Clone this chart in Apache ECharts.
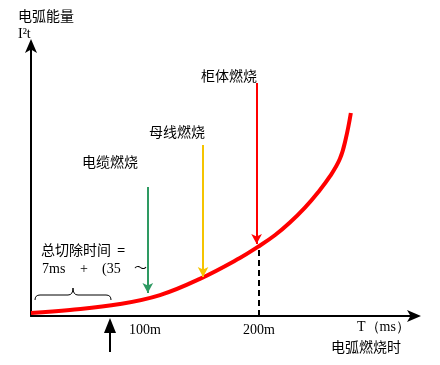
<!DOCTYPE html>
<html><head><meta charset="utf-8">
<script src="https://cdn.jsdelivr.net/npm/echarts@6/dist/echarts.min.js"></script>
<style>html,body{margin:0;padding:0;background:#fff}#c{width:440px;height:365px}</style>
</head><body><div id="c"></div>
<script>
// Curve: arc energy vs time (ms, relative energy)
const curveT = [0, 34.2, 78.1, 113.2, 148.2, 183.3, 199.1, 214.0, 227.2, 240.4, 251.8, 262.3, 271.1, 276.3, 280.7];
const curveE = [1.1, 2.2, 4.4, 7.7, 13.7, 21.4, 25.5, 29.8, 34.5, 40.0, 45.6, 51.5, 58.0, 65.5, 74.9];
// Burning-type arrows: [time, start energy, end energy]
const arrowNames = ['电缆燃烧', '母线燃烧', '柜体燃烧'];
const arrowT = [102.5, 151, 198];
const arrowFrom = [47.6, 63.1, 86];
const arrowTo = [8.5, 14.4, 26.6];
const arrowColors = ['#2e9a62', '#f5c400', '#ff0000'];
// x tick labels
const tickVals = [100, 200];
const tickLabels = ['100m', '200m'];
// dashed marker at 200 ms
const dashT = 200, dashTop = 25.7;

const chart = echarts.init(document.getElementById('c'));
const markData = arrowT.map((t, i) => [
  {coord: [t, arrowFrom[i]], lineStyle: {color: arrowColors[i], width: 2, type: 'solid'}, symbol: 'none'},
  {coord: [t, arrowTo[i]], symbol: 'arrow'}
]);
markData.push([
  {coord: [dashT, 0], lineStyle: {color: '#000', width: 2, type: [6, 4]}, symbol: 'none'},
  {coord: [dashT, dashTop], symbol: 'none'}
]);
const serif = '"Liberation Serif","Times New Roman",serif';
const cjk = '"Noto Sans CJK SC",sans-serif';
const blk = {stroke: '#000', lineWidth: 1, fill: null};
chart.setOption({
  animation: false,
  grid: {left: 31, top: 45, right: 25, bottom: 49},
  xAxis: {
    type: 'value', min: 0, max: 337, interval: 100,
    axisLine: {lineStyle: {color: '#000', width: 2}, symbol: ['none', 'arrow'], symbolSize: [9, 14], symbolOffset: [0, 6]},
    axisTick: {show: false}, splitLine: {show: false},
    axisLabel: {
      color: '#000', fontFamily: serif, fontSize: 14, margin: 7,
      formatter: v => { const k = tickVals.indexOf(v); return k >= 0 ? tickLabels[k] : ''; }
    }
  },
  yAxis: {
    type: 'value', min: 0, max: 100,
    axisLine: {show: true, lineStyle: {color: '#000', width: 2}, symbol: ['none', 'arrow'], symbolSize: [9, 14], symbolOffset: [0, 6]},
    axisTick: {show: false}, splitLine: {show: false}, axisLabel: {show: false}
  },
  series: [{
    type: 'line', data: curveT.map((t, i) => [t, curveE[i]]), smooth: 0.4, symbol: 'none',
    lineStyle: {color: '#ff0000', width: 4},
    markLine: {silent: true, symbol: ['none', 'arrow'], symbolSize: [8, 10], label: {show: false}, data: markData}
  }],
  graphic: [
    {type: 'text', left: 18, top: 9, style: {text: '电弧能量', font: '14px ' + cjk, fill: '#000'}},
    {type: 'text', left: 18, top: 27, style: {text: 'I²t', font: '14px ' + serif, fill: '#000'}},
    {type: 'text', left: 82, top: 155, style: {text: arrowNames[0], font: '14px ' + cjk, fill: '#000'}},
    {type: 'text', left: 149, top: 125, style: {text: arrowNames[1], font: '14px ' + cjk, fill: '#000'}},
    {type: 'text', left: 201, top: 69, style: {text: arrowNames[2], font: '14px ' + cjk, fill: '#000'}},
    {type: 'text', left: 41, top: 243, style: {text: '总切除时间  =', font: '14px ' + cjk, fill: '#000'}},
    {type: 'text', left: 42, top: 262, style: {text: '7ms', font: '14px ' + serif, fill: '#000'}},
    {type: 'text', left: 80, top: 262, style: {text: '+', font: '14px ' + serif, fill: '#000'}},
    {type: 'text', left: 102, top: 262, style: {text: '(35', font: '14px ' + serif, fill: '#000'}},
    {type: 'text', left: 134, top: 261, style: {text: '～', font: '13px ' + cjk, fill: '#000'}},
    {type: 'text', left: 357, top: 320, style: {text: 'T（ms）', font: '14px ' + serif, fill: '#000'}},
    {type: 'text', left: 331, top: 340, style: {text: '电弧燃烧时', font: '14px ' + cjk, fill: '#000'}},
    {type: 'bezierCurve', shape: {x1: 35, y1: 300, cpx1: 35, cpy1: 295, x2: 40, y2: 295}, style: blk},
    {type: 'line', shape: {x1: 40, y1: 295, x2: 68, y2: 295}, style: blk},
    {type: 'bezierCurve', shape: {x1: 68, y1: 295, cpx1: 73, cpy1: 295, x2: 73, y2: 288}, style: blk},
    {type: 'bezierCurve', shape: {x1: 73, y1: 288, cpx1: 73, cpy1: 295, x2: 78, y2: 295}, style: blk},
    {type: 'line', shape: {x1: 78, y1: 295, x2: 106, y2: 295}, style: blk},
    {type: 'bezierCurve', shape: {x1: 106, y1: 295, cpx1: 111, cpy1: 295, x2: 111, y2: 300}, style: blk},
    {type: 'line', shape: {x1: 110, y1: 352, x2: 110, y2: 330}, style: {stroke: '#000', lineWidth: 2}},
    {type: 'polygon', shape: {points: [[110, 318], [104, 333], [116, 333]]}, style: {fill: '#000'}}
  ]
});
</script></body></html>
